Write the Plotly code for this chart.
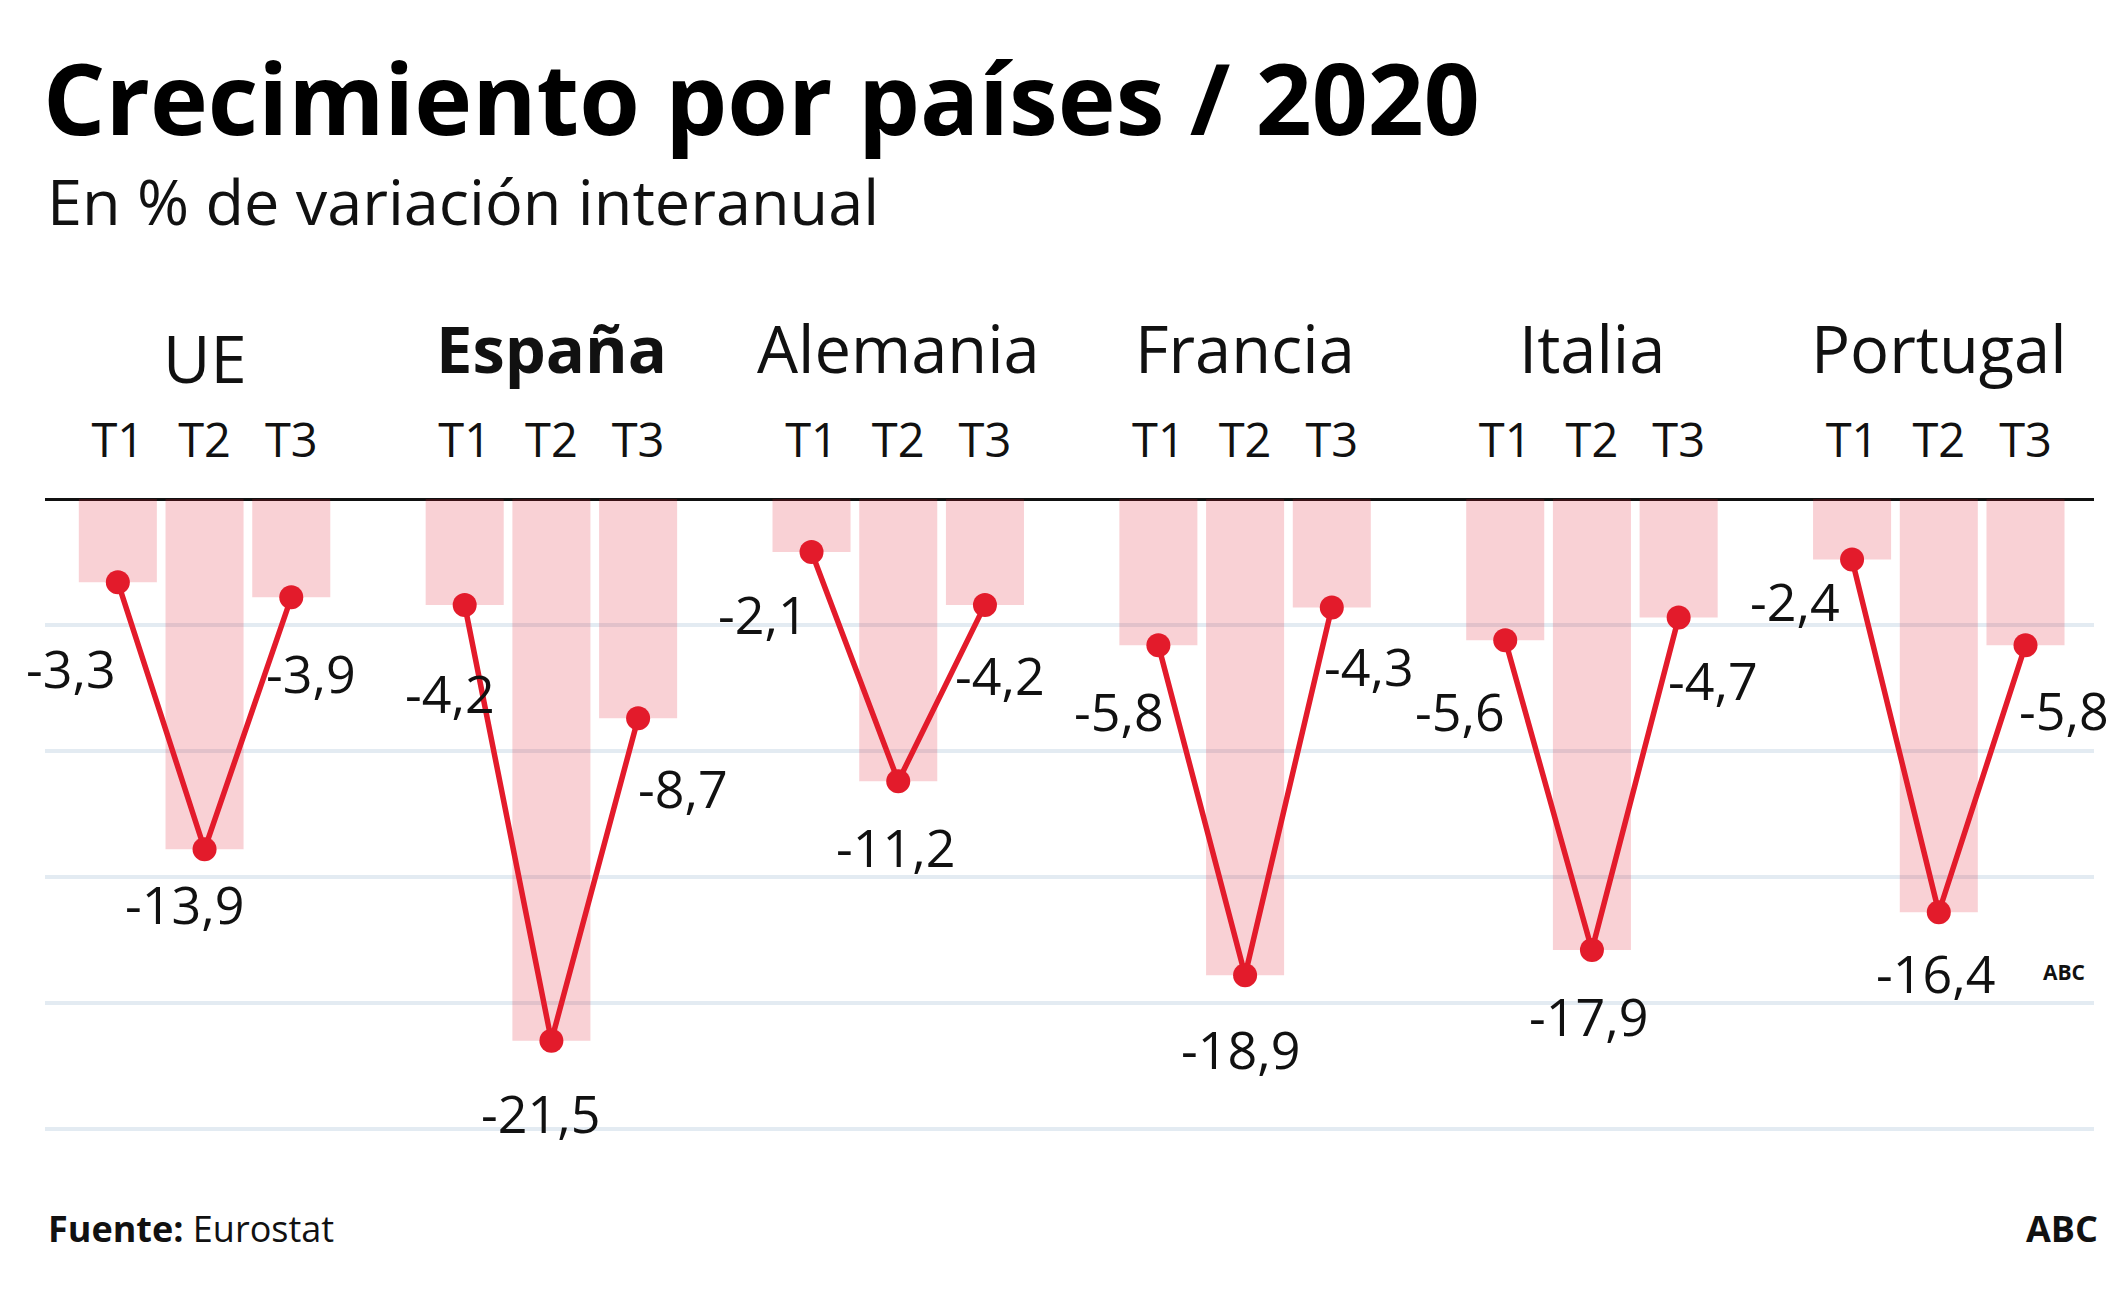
import plotly.graph_objects as go

# ---------------- data ----------------
COUNTRIES = ["UE", "España", "Alemania", "Francia", "Italia", "Portugal"]
QUARTERS = ["T1", "T2", "T3"]
UE = [-3.3, -13.9, -3.9]
ESPANA = [-4.2, -21.5, -8.7]
ALEMANIA = [-2.1, -11.2, -4.2]
FRANCIA = [-5.8, -18.9, -4.3]
ITALIA = [-5.6, -17.9, -4.7]
PORTUGAL = [-2.4, -16.4, -5.8]
SERIES = [UE, ESPANA, ALEMANIA, FRANCIA, ITALIA, PORTUGAL]
BOLD_COUNTRY = "España"

TITLE = "Crecimiento por países / 2020"
SUBTITLE = "En % de variación interanual"
SOURCE_LABEL = "Fuente:"
SOURCE = "Eurostat"
CREDIT = "ABC"

# ---------------- layout / style ----------------
OFF = 8  # page body margin compensation
W, H = 2125, 1314
ML, MR, MT, MB = 45, 31, 489, 175
FIG_W, FIG_H = W - OFF, H - OFF
PLOT_W = W - ML - MR
PLOT_H = H - MT - MB
PLOT_BOTTOM = H - MB
GROUP_STEP = 4
X_RANGE = [-0.84, 22.79]
Y_RANGE = [-25.4, 0.4]

FONT = "Open Sans"
RED = "#e31b2b"
BAR_FILL = "rgba(227,27,43,0.2)"
GRID = "#e3ebf2"

# label offsets in pixels (dx right, dy down) from each point
LABEL_OFFSETS = [
    [(-47, 85), (-20, 54), (20, 75)],
    [(-15, 88), (-11, 72), (45, 69)],
    [(-49, 62), (-3, 65), (15, 70)],
    [(-39, 65), (-5, 73), (37, 58)],
    [(-45, 70), (-3, 65), (34, 62)],
    [(-57, 41), (-3, 60), (38, 64)],
]


def py(px):
    return (PLOT_BOTTOM - px) / PLOT_H


def pxx(px):
    return (px - ML) / PLOT_W


def fmt(v):
    return f"{v:.1f}".replace(".", ",")


fig = go.Figure()

xs_all, ys_all, ticks, ticktext = [], [], [], []
for g, vals in enumerate(SERIES):
    xs = [g * GROUP_STEP + q for q in range(len(QUARTERS))]
    xs_all += xs
    ys_all += vals
    ticks += xs
    ticktext += QUARTERS

fig.add_trace(go.Bar(x=xs_all, y=ys_all, width=0.9,
                     marker=dict(color=BAR_FILL, line=dict(width=0)),
                     showlegend=False, hoverinfo="skip"))

for g, vals in enumerate(SERIES):
    xs = [g * GROUP_STEP + q for q in range(len(QUARTERS))]
    fig.add_trace(go.Scatter(x=xs, y=vals, mode="lines+markers",
                             line=dict(color=RED, width=5.5),
                             marker=dict(color=RED, size=24),
                             showlegend=False, name=COUNTRIES[g]))

annotations = []
for g, vals in enumerate(SERIES):
    for q, v in enumerate(vals):
        dx, dy = LABEL_OFFSETS[g][q]
        annotations.append(dict(x=g * GROUP_STEP + q, y=v, xref="x", yref="y",
                                text=fmt(v), showarrow=False,
                                xshift=dx, yshift=-dy,
                                font=dict(family=FONT, size=52, color="#111"),
                                xanchor="center", yanchor="middle"))
    name = COUNTRIES[g]
    txt = f"<b>{name}</b>" if name == BOLD_COUNTRY else name
    annotations.append(dict(x=g * GROUP_STEP + 1, y=py(348 + (10 if g == 0 else 0)),
                            xref="x", yref="paper", text=txt, showarrow=False,
                            font=dict(family=FONT, size=65, color="#111"),
                            xanchor="center", yanchor="middle"))

annotations += [
    dict(x=pxx(41), y=py(97), xref="paper", yref="paper",
         text=f"<b>{TITLE}</b>", showarrow=False, xanchor="left", yanchor="middle",
         font=dict(family=FONT, size=98, color="#000")),
    dict(x=pxx(45), y=py(200), xref="paper", yref="paper",
         text=SUBTITLE, showarrow=False, xanchor="left", yanchor="middle",
         font=dict(family=FONT, size=63, color="#111")),
    dict(x=pxx(46), y=py(1228), xref="paper", yref="paper",
         text=f"<b>{SOURCE_LABEL}</b> {SOURCE}", showarrow=False,
         xanchor="left", yanchor="middle",
         font=dict(family=FONT, size=36, color="#111")),
    dict(x=pxx(2100), y=py(1228), xref="paper", yref="paper",
         text=f"<b>{CREDIT}</b>", showarrow=False,
         xanchor="right", yanchor="middle",
         font=dict(family=FONT, size=36, color="#111")),
    dict(x=pxx(2064), y=py(972), xref="paper", yref="paper",
         text=f"<b>{CREDIT}</b>", showarrow=False,
         xanchor="center", yanchor="middle",
         font=dict(family=FONT, size=21, color="#111")),
]

fig.update_layout(
    width=FIG_W, height=FIG_H, autosize=False,
    margin=dict(l=ML - OFF, r=MR, t=MT - OFF, b=MB, pad=0),
    paper_bgcolor="white", plot_bgcolor="white",
    barmode="overlay",
    annotations=annotations,
    xaxis=dict(range=X_RANGE, side="top", tickvals=ticks, ticktext=ticktext,
               showgrid=False, zeroline=False, showline=False, ticks="",
               ticklabelstandoff=22,
               tickfont=dict(family=FONT, size=47, color="#111")),
    yaxis=dict(range=Y_RANGE, dtick=5, tick0=0, showticklabels=False,
               showgrid=True, gridcolor=GRID, gridwidth=4,
               zeroline=True, zerolinecolor="#111", zerolinewidth=3,
               showline=False, ticks=""),
)

fig.write_html("out.html")
